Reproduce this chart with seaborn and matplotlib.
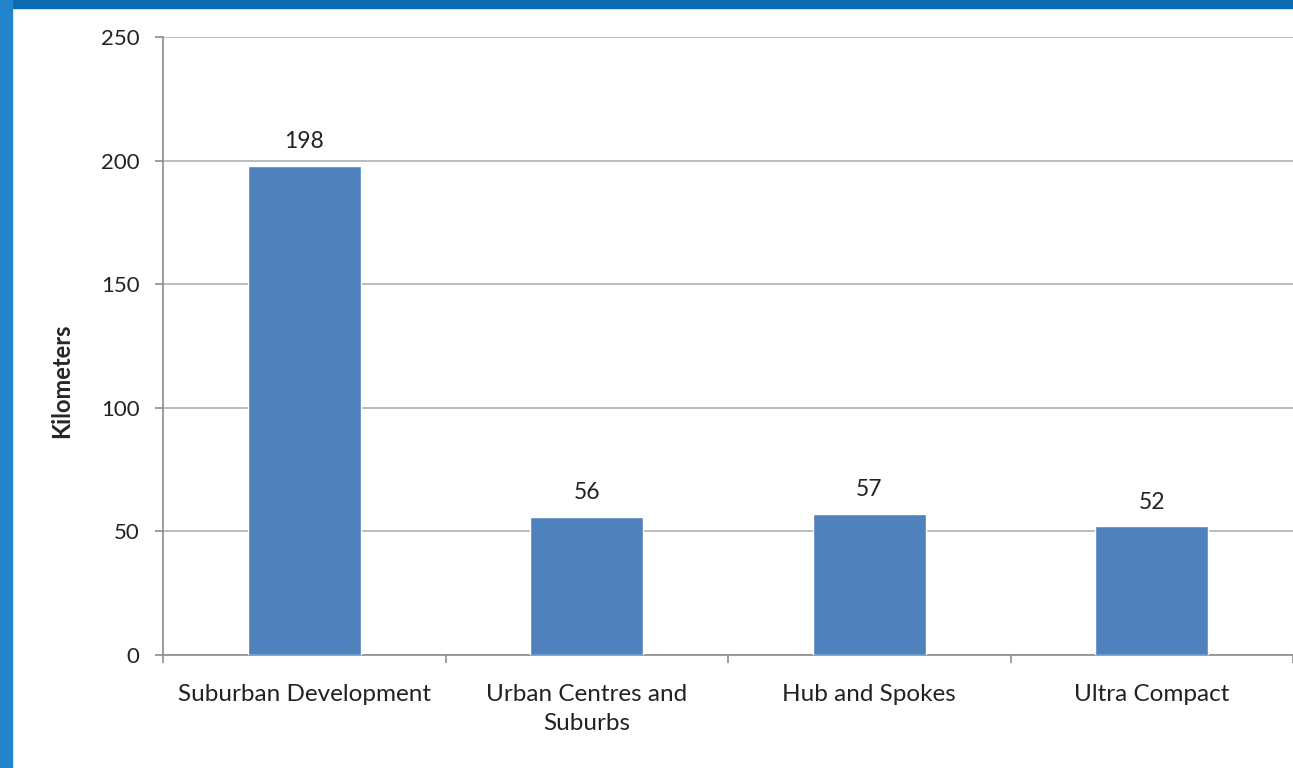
import matplotlib
matplotlib.use("Agg")
import matplotlib.pyplot as plt
from matplotlib.patches import Rectangle
import seaborn as sns
import pandas as pd

# chart values
scenarios = ["Suburban Development", "Urban Centres and\nSuburbs", "Hub and Spokes", "Ultra Compact"]
kilometers = [198, 56, 57, 52]
y_ticks = [0, 50, 100, 150, 200, 250]

df = pd.DataFrame({"scenario": scenarios, "km": kilometers})

sns.set_theme(style="white")
plt.rcParams["font.family"] = ["Lato", "DejaVu Sans"]

fig = plt.figure(figsize=(12.93, 7.68), dpi=100)
fig.patch.set_facecolor("white")

# blue slide frame on top and left
fig.patches.append(Rectangle((0, 1 - 8 / 768), 1, 8 / 768, transform=fig.transFigure,
                             color="#0b6ab2", zorder=0))
fig.patches.append(Rectangle((0, 0), 12 / 1293, 1, transform=fig.transFigure,
                             color="#2384cc", zorder=0))

ax = fig.add_axes([163 / 1293, 1 - 655 / 768, 1 - 163 / 1293, (655 - 37) / 768])
sns.barplot(data=df, x="scenario", y="km", color="#4f81bd", saturation=1,
            width=0.40, ax=ax, zorder=3)

ax.set_ylim(0, 250)
ax.set_xlim(-0.5, 3.5)
ax.set_yticks(y_ticks)
ax.yaxis.grid(True, color="#b0b0b0", linewidth=1.2, zorder=0)
ax.set_axisbelow(True)

for s in ["top", "right"]:
    ax.spines[s].set_visible(False)
for s in ["left", "bottom"]:
    ax.spines[s].set_color("#8c8c8c")
    ax.spines[s].set_linewidth(1.2)

# category separators as tick marks
ax.set_xticks([-0.5, 0.5, 1.5, 2.5, 3.5], minor=True)
ax.tick_params(axis="x", which="major", bottom=False, length=0, pad=21,
               labelsize=17.5, labelcolor="#222222")
ax.tick_params(axis="x", which="minor", bottom=True, length=6, width=1.2,
               color="#8c8c8c", direction="out")
ax.tick_params(axis="y", left=True, length=6, width=1.2, color="#8c8c8c", direction="out",
               pad=11, labelsize=16, labelcolor="#222222")
for lbl in ax.get_xticklabels():
    lbl.set_linespacing(1.45)

ax.set_xlabel("")
ax.set_ylabel("Kilometers", fontsize=17, fontweight="bold")
ax.yaxis.set_label_coords((73 - 163) / 1130, (655 - 381) / 618)

for i, v in enumerate(kilometers):
    ax.annotate(str(v), (i, v), xytext=(0, 10), textcoords="offset points",
                ha="center", va="bottom", fontsize=16.5, color="#222222")

fig.savefig("out.png", dpi=100)
